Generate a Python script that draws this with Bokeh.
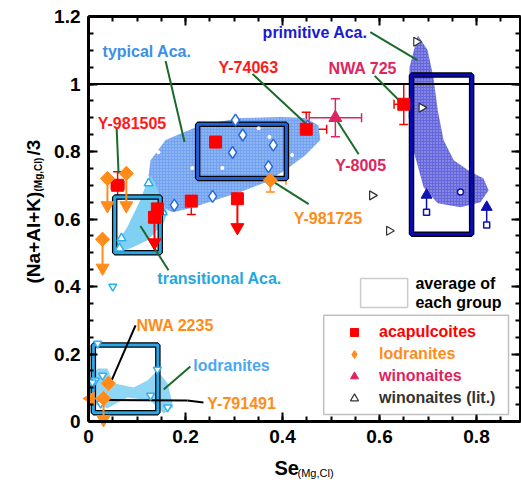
import numpy as np
from bokeh.plotting import figure
from bokeh.models import (ColumnDataSource, Whisker, TeeHead, FixedTicker, LinearAxis, Range1d,
                          Label, BoxAnnotation, Legend, LegendItem)
from bokeh.core.properties import value
from bokeh.embed import file_html
from bokeh.resources import INLINE

FONT = "Liberation Sans"

# ---------------- axes ----------------
x_ticks = [0, 0.2, 0.4, 0.6, 0.8]
x_tick_labels = ["0", "0.2", "0.4", "0.6", "0.8"]
y_ticks = [0, 0.2, 0.4, 0.6, 0.8, 1.0, 1.2]
y_tick_labels = ["0", "0.2", "0.4", "0.6", "0.8", "1", "1.2"]
x_axis_min, x_axis_max = 0.0, 0.891
y_axis_min, y_axis_max = 0.0, 1.2
ref_level = 1.0

# ---------------- this study ----------------
aca_x = [0.060, 0.262, 0.212, 0.307, 0.142, 0.136, 0.449, 0.650]
aca_y = [0.700, 0.828, 0.653, 0.660, 0.630, 0.605, 0.866, 0.940]
aca_xerr = [0.013, 0.0, 0.0, 0.010, 0.0, 0.0, 0.042, 0.020]
aca_yerr = [0.040, 0.050, 0.040, 0.0, 0.045, 0.0, 0.050, 0.060]
aca_lim_x = [0.307, 0.136]
aca_lim_from = [0.660, 0.605]
aca_lim_to = [0.575, 0.530]

lod_x = [0.039, 0.078, 0.029, 0.375, 0.041, 0.031]
lod_y = [0.720, 0.735, 0.540, 0.715, 0.113, 0.068]
lod_xerr = [0.0, 0.0, 0.0, 0.032, 0.0, 0.0]
lod_yerr = [0.0, 0.0, 0.0, 0.035, 0.0, 0.0]
lod_lim_x = [0.039, 0.078, 0.029, 0.031]
lod_lim_from = [0.720, 0.735, 0.540, 0.068]
lod_lim_to = [0.640, 0.640, 0.455, 0.006]
lod_xlim_y = [0.068]
lod_xlim_from = [0.031]
lod_xlim_to = [0.004]

win_x = [0.509]
win_y = [0.900]
win_xerr = [0.054]
win_yerr = [0.056]

# ---------------- literature ----------------
winlit_x = [0.676, 0.687, 0.585, 0.620]
winlit_y = [1.125, 0.930, 0.670, 0.565]

typ_x = [0.303, 0.318, 0.297, 0.381, 0.371, 0.256, 0.177, 0.452]
typ_y = [0.893, 0.849, 0.797, 0.819, 0.755, 0.667, 0.641, 0.875]
typ_dot_x = [0.144, 0.359, 0.351, 0.373, 0.276, 0.239, 0.214, 0.420]
typ_dot_y = [0.798, 0.914, 0.869, 0.843, 0.751, 0.638, 0.751, 0.790]

tr_x = [0.124, 0.153, 0.068, 0.064]
tr_y = [0.706, 0.620, 0.543, 0.513]
tr_low_x = [0.050]
tr_low_y = [0.400]

lodlit_x = [0.019, 0.142, 0.014, 0.029, 0.128, 0.163, 0.025, 0.008]
lodlit_y = [0.231, 0.154, 0.122, 0.136, 0.077, 0.042, 0.053, 0.116]

prim_x = [0.697, 0.821]
prim_y = [0.620, 0.582]
prim_lim_y = [0.671, 0.635]
prim_circ_x = [0.767]
prim_circ_y = [0.680]

# group averages
box_left = [0.225, 0.054, 0.010, 0.666]
box_right = [0.408, 0.148, 0.143, 0.790]
box_bottom = [0.720, 0.500, 0.026, 0.555]
box_top = [0.881, 0.665, 0.227, 1.027]
box_color = ["#2060d8", "#2aa6e6", "#2aa6e6", "#0a0ab4"]

# group fields
typ_field_x = [0.128, 0.159, 0.231, 0.313, 0.396, 0.447, 0.474, 0.478, 0.447, 0.406,
               0.365, 0.313, 0.262, 0.210, 0.173, 0.144, 0.130, 0.124]
typ_field_y = [0.774, 0.834, 0.878, 0.899, 0.902, 0.899, 0.878, 0.834, 0.789, 0.745,
               0.709, 0.680, 0.656, 0.632, 0.620, 0.641, 0.685, 0.730]
prim_field_x = [0.678, 0.662, 0.660, 0.670, 0.691, 0.720, 0.767, 0.808, 0.825, 0.814,
                0.788, 0.753, 0.732, 0.720, 0.711, 0.699, 0.680]
prim_field_y = [1.139, 1.050, 0.902, 0.804, 0.694, 0.647, 0.635, 0.650, 0.685, 0.721,
                0.739, 0.774, 0.834, 0.923, 1.021, 1.101, 1.142]
tr_field_x = [0.052, 0.080, 0.107, 0.122, 0.128, 0.138, 0.148, 0.163, 0.155, 0.122, 0.087, 0.060]
tr_field_y = [0.513, 0.576, 0.656, 0.715, 0.727, 0.706, 0.665, 0.620, 0.588, 0.537, 0.513, 0.501]
lod_field_x = [0.002, 0.019, 0.039, 0.052, 0.093, 0.122, 0.142, 0.163, 0.175, 0.155,
               0.128, 0.080, 0.039, 0.010, 0.002]
lod_field_y = [0.128, 0.157, 0.157, 0.113, 0.101, 0.122, 0.151, 0.113, 0.042, 0.024,
               0.062, 0.071, 0.039, 0.053, 0.092]

# annotations
lab_text = ["typical Aca.", "primitive Aca.", "Y-74063", "NWA 725", "Y-981505", "Y-8005",
            "Y-981725", "transitional Aca.", "NWA 2235", "lodranites", "Y-791491"]
lab_x = [0.029, 0.359, 0.268, 0.495, 0.019, 0.509, 0.423, 0.142, 0.099, 0.216, 0.245]
lab_y = [1.095, 1.154, 1.050, 1.047, 0.884, 0.760, 0.602, 0.424, 0.285, 0.166, 0.053]
lab_color = ["#3d8fe8", "#1a1ad2", "#ff1a1a", "#e0245e", "#ff1a1a", "#e0245e",
             "#ff8c1a", "#22a8e0", "#ff8c1a", "#4aa8f0", "#ff8c1a"]

lead_x0 = [0.159, 0.581, 0.338, 0.590, 0.058, 0.557, 0.379, 0.107, 0.097, 0.210, 0.031, 0.204]
lead_y0 = [1.068, 1.154, 1.030, 1.024, 0.870, 0.792, 0.712, 0.579, 0.285, 0.163, 0.064, 0.062]
lead_x1 = [0.198, 0.678, 0.454, 0.654, 0.062, 0.510, 0.454, 0.165, 0.045, 0.155, 0.204, 0.237]
lead_y1 = [0.828, 1.071, 0.875, 0.932, 0.735, 0.897, 0.644, 0.448, 0.113, 0.095, 0.062, 0.056]
lead_color = ["#1a6b2a"] * 8 + ["#000000", "#1a6b2a", "#000000", "#000000"]

RED = "#ff0000"
ORANGE = "#ff8c1a"
CRIMSON = "#dc2460"

W, H = 521, 487
# frame covers the whole canvas; axes are pinned at the data limits
PX_X, PX_Y = 485.0, 337.5          # pixels per data unit
X0_PX, Y0_PX = 88.0, 421.0         # canvas position of data origin
x_lo = -X0_PX / PX_X
x_hi = (W - X0_PX) / PX_X
y_lo = -(H - Y0_PX) / PX_Y
y_hi = Y0_PX / PX_Y

p = figure(width=W, height=H, output_backend="svg", toolbar_location=None,
           x_range=Range1d(x_lo, x_hi), y_range=Range1d(y_lo, y_hi),
           x_axis_location=None, y_axis_location=None,
           min_border=0, min_border_left=0, min_border_right=0,
           min_border_top=0, min_border_bottom=0)
p.background_fill_color = "white"
p.border_fill_color = "white"
p.outline_line_color = None
p.xgrid.visible = False
p.ygrid.visible = False

x_minor = list(np.round(np.arange(0, 0.90, 0.05), 3))
y_minor = list(np.round(np.arange(0, 1.201, 0.05), 3))
xt = FixedTicker(ticks=x_ticks, minor_ticks=x_minor)
yt = FixedTicker(ticks=y_ticks, minor_ticks=y_minor)


def make_axis(ticker, loc, bounds, show_labels, overrides):
    ax = LinearAxis(ticker=ticker, fixed_location=loc, bounds=bounds)
    ax.axis_line_width = 3
    ax.axis_line_color = "black"
    ax.major_tick_in = 9
    ax.major_tick_out = 0
    ax.minor_tick_in = 5
    ax.minor_tick_out = 0
    ax.major_tick_line_width = 2
    ax.minor_tick_line_width = 2
    ax.major_tick_line_color = "black"
    ax.minor_tick_line_color = "black"
    if show_labels:
        ax.major_label_text_font = FONT
        ax.major_label_text_font_style = "bold"
        ax.major_label_text_font_size = "19px"
        ax.major_label_text_color = "black"
        ax.major_label_standoff = 8
        ax.major_label_overrides = overrides
    else:
        ax.major_label_text_font_size = "1px"
        ax.major_label_text_color = None
        ax.major_label_standoff = 0
    return ax


p.add_layout(make_axis(xt, y_axis_min, (x_axis_min, x_axis_max), True,
                       dict(zip(x_ticks, x_tick_labels))), "below")
p.add_layout(make_axis(yt, x_axis_min, (y_axis_min, y_axis_max), True,
                       dict(zip(y_ticks, y_tick_labels))), "left")
p.add_layout(make_axis(xt, y_axis_max, (x_axis_min, x_axis_max), False, {}), "above")
p.add_layout(make_axis(yt, x_axis_max, (y_axis_min, y_axis_max), False, {}), "right")

# fields
p.patch(typ_field_x, typ_field_y, fill_color="#72a2f0", line_color=None,
        hatch_pattern="dot", hatch_color="white", hatch_alpha=0.5, hatch_scale=3, hatch_weight=1)
p.patch(prim_field_x, prim_field_y, fill_color="#6666dc", line_color=None,
        hatch_pattern="dot", hatch_color="white", hatch_alpha=0.5, hatch_scale=3, hatch_weight=1)
p.patch(tr_field_x, tr_field_y, fill_color="#7fd0f2", line_color=None)
p.patch(lod_field_x, lod_field_y, fill_color="#8fd6f4", line_color=None)

# y = 1 reference line
p.segment(x0=[x_axis_min], y0=[ref_level], x1=[x_axis_max], y1=[ref_level],
          line_color="black", line_width=2)

# group averages
p.quad(left=box_left, right=box_right, bottom=box_bottom, top=box_top,
       fill_color=None, line_color="black", line_width=5.5)
p.quad(left=box_left, right=box_right, bottom=box_bottom, top=box_top,
       fill_color=None, line_color=box_color, line_width=3)

# leader lines
p.segment(x0=lead_x0, y0=lead_y0, x1=lead_x1, y1=lead_y1, line_color=lead_color, line_width=2)

# literature symbols
p.scatter(typ_dot_x, typ_dot_y, marker="circle", size=4, fill_color="white", line_color=None)
p.scatter(typ_x, typ_y, marker="diamond", size=12, fill_color="white", line_color="#2a6ad8", line_width=1.5)
p.scatter(tr_x, tr_y, marker="triangle", size=9, fill_color="white", line_color="#2ab0e8", line_width=1.5)
p.scatter(tr_low_x, tr_low_y, marker="inverted_triangle", size=8, fill_color="white", line_color="#2ab0e8", line_width=1.5)
p.scatter(lodlit_x, lodlit_y, marker="inverted_triangle", size=8, fill_color="white", line_color="#38aef0", line_width=1.5)
p.segment(x0=prim_x, y0=prim_y, x1=prim_x, y1=prim_lim_y, line_color="#1010b0", line_width=1.5)
p.scatter(prim_x, prim_y, marker="square", size=6, fill_color="white", line_color="#1010b0", line_width=1.5)
p.scatter(prim_x, prim_lim_y, marker="triangle", size=11, fill_color="#1010b0", line_color="#1010b0")
p.scatter(prim_circ_x, prim_circ_y, marker="circle", size=6, fill_color="white", line_color="#1010b0", line_width=1.5)
r_winlit = p.scatter(winlit_x, winlit_y, marker="triangle", angle=-np.pi / 2, size=9,
                     fill_color="white", line_color="#333333", line_width=1.2)


def errorbars(xs, ys, xe, ye, color):
    vx = [(x, y, e) for x, y, e in zip(xs, ys, ye) if e > 0]
    if vx:
        s = ColumnDataSource(dict(x=[a[0] for a in vx], lo=[a[1] - a[2] for a in vx], hi=[a[1] + a[2] for a in vx]))
        p.add_layout(Whisker(source=s, base="x", lower="lo", upper="hi", dimension="height",
                             line_color=color, line_width=1.5,
                             lower_head=TeeHead(size=9, line_color=color, line_width=1.5),
                             upper_head=TeeHead(size=9, line_color=color, line_width=1.5)))
    hx = [(x, y, e) for x, y, e in zip(xs, ys, xe) if e > 0]
    if hx:
        s = ColumnDataSource(dict(y=[a[1] for a in hx], lo=[a[0] - a[2] for a in hx], hi=[a[0] + a[2] for a in hx]))
        p.add_layout(Whisker(source=s, base="y", lower="lo", upper="hi", dimension="width",
                             line_color=color, line_width=1.5,
                             lower_head=TeeHead(size=9, line_color=color, line_width=1.5),
                             upper_head=TeeHead(size=9, line_color=color, line_width=1.5)))


# this study: limits
p.segment(x0=aca_lim_x, y0=aca_lim_from, x1=aca_lim_x, y1=aca_lim_to, line_color=RED, line_width=2)
p.scatter(aca_lim_x, aca_lim_to, marker="inverted_triangle", size=13, fill_color=RED, line_color=RED)
p.segment(x0=lod_lim_x, y0=lod_lim_from, x1=lod_lim_x, y1=lod_lim_to, line_color=ORANGE, line_width=2)
p.scatter(lod_lim_x, lod_lim_to, marker="inverted_triangle", size=13, fill_color=ORANGE, line_color=ORANGE)
p.segment(x0=lod_xlim_from, y0=lod_xlim_y, x1=lod_xlim_to, y1=lod_xlim_y, line_color=ORANGE, line_width=2)
p.scatter(lod_xlim_to, lod_xlim_y, marker="triangle", angle=np.pi / 2, size=13, fill_color=ORANGE, line_color=ORANGE)

errorbars(aca_x, aca_y, aca_xerr, aca_yerr, RED)
errorbars(lod_x, lod_y, lod_xerr, lod_yerr, ORANGE)
errorbars(win_x, win_y, win_xerr, win_yerr, CRIMSON)

r_aca = p.scatter(aca_x, aca_y, marker="square", size=12, fill_color=RED, line_color=RED)
# lodranites: diamond (used for the key) under a rotated square of the same colour
r_lod = p.scatter(lod_x, lod_y, marker="diamond", size=14, fill_color=ORANGE, line_color=ORANGE)
p.scatter(lod_x, lod_y, marker="square", angle=np.pi / 4, size=10, fill_color=ORANGE, line_color=ORANGE)
r_win = p.scatter(win_x, win_y, marker="triangle", size=13, fill_color=CRIMSON, line_color=CRIMSON)

# labels
lab_src = ColumnDataSource(dict(x=lab_x, y=lab_y, text=lab_text, color=lab_color))
p.text(x="x", y="y", text="text", text_color="color", source=lab_src,
       text_font=value(FONT), text_font_style="bold", text_font_size="16px",
       text_align="left", text_baseline="middle")

# legend: average box
p.add_layout(BoxAnnotation(left=0.561, right=0.658, bottom=0.338, top=0.424,
                           fill_color="white", fill_alpha=1, line_color="#555555", line_width=1.5))
p.add_layout(Label(x=0.674, y=0.410, text="average of", text_font=FONT, text_font_style="bold",
                   text_font_size="16px", text_baseline="middle", text_color="black"))
p.add_layout(Label(x=0.674, y=0.352, text="each group", text_font=FONT, text_font_style="bold",
                   text_font_size="16px", text_baseline="middle", text_color="black"))

# legend frame
p.add_layout(BoxAnnotation(left=0.485, right=0.866, bottom=0.021, top=0.315,
                           fill_color="white", fill_alpha=1, line_color="#333333", line_width=1.5))

legend_entries = [("acapulcoites", r_aca, RED, 145),
                  ("lodranites", r_lod, ORANGE, 123),
                  ("winonaites", r_win, CRIMSON, 101),
                  ("winonaites (lit.)", r_winlit, "#333333", 79)]
for name, rend, col, ly in legend_entries:
    lg = Legend(items=[LegendItem(label=name, renderers=[rend])], location=(342, ly),
                padding=0, margin=0, spacing=0, glyph_width=24, glyph_height=20,
                label_height=20, label_standoff=13, border_line_color=None,
                background_fill_alpha=0, label_text_font=FONT, label_text_font_style="bold",
                label_text_font_size="16px", label_text_color=col)
    p.add_layout(lg, "center")

# axis titles
p.add_layout(Label(x=0.3835, y=-0.139, text="Se", text_font=FONT,
                   text_font_style="bold", text_font_size="20px", text_baseline="middle",
                   text_color="black"))
p.add_layout(Label(x=0.431, y=-0.154, text="(Mg,Cl)", text_font=FONT,
                   text_font_style="normal", text_font_size="11px", text_baseline="middle",
                   text_color="black"))
p.add_layout(Label(x=-0.1134, y=0.409, text="(Na+Al+K)", angle=np.pi / 2,
                   text_font=FONT, text_font_style="bold", text_font_size="19px",
                   text_baseline="middle", text_align="left", text_color="black"))
p.add_layout(Label(x=-0.1031, y=0.6815, text="(Mg,Cl)", angle=np.pi / 2,
                   text_font=FONT, text_font_style="bold", text_font_size="10px",
                   text_baseline="middle", text_align="left", text_color="black"))
p.add_layout(Label(x=-0.1134, y=0.7881, text="/3", angle=np.pi / 2,
                   text_font=FONT, text_font_style="bold", text_font_size="19px",
                   text_baseline="middle", text_align="left", text_color="black"))

open("out.html", "w").write(file_html(p, INLINE))
